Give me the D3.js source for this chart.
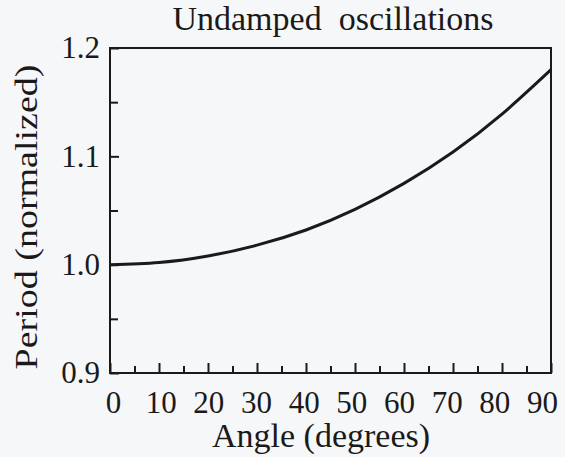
<!DOCTYPE html>
<html>
<head>
<meta charset="utf-8">
<script src="https://cdn.jsdelivr.net/npm/d3@7"></script>
<style>
  body { margin: 0; background: #f6f7f8; }
  text { font-family: "Liberation Serif", "Times New Roman", serif; fill: #1a1a1a; }
</style>
</head>
<body>
<div id="chart"></div>
<script>
// data
var angles = [0, 10, 20, 30, 40, 50, 60, 70, 80, 90];
var periods = [1.000, 1.002, 1.008, 1.018, 1.032, 1.051, 1.075, 1.104, 1.139, 1.180];
var xTicks = [0, 10, 20, 30, 40, 50, 60, 70, 80, 90];
var xMinorTicks = [5, 15, 25, 35, 45, 55, 65, 75, 85];
var yTicks = [0.9, 1.0, 1.1, 1.2];
var yMinorTicks = [0.95, 1.05, 1.15];

var margin = {top: 48, right: 14, bottom: 84, left: 110},
    width = 565 - margin.left - margin.right,
    height = 457 - margin.top - margin.bottom;

var svg = d3.select("#chart")
  .append("svg")
    .attr("width", 565)
    .attr("height", 457)
  .append("g")
    .attr("transform", "translate(" + margin.left + "," + margin.top + ")");

var x = d3.scaleLinear().domain([0, 90]).range([0, width]);
var y = d3.scaleLinear().domain([0.9, 1.2]).range([height, 0]);
// tick numbers in the picture sit a little tighter than the ticks
var xLabel = d3.scaleLinear().domain([0, 90]).range([3, width - 9]);

// frame
svg.append("rect")
  .attr("width", width)
  .attr("height", height)
  .attr("fill", "none")
  .attr("stroke", "#1a1a1a")
  .attr("stroke-width", 2);

// x axis, ticks pointing inward
svg.append("g")
  .attr("transform", "translate(0," + height + ")")
  .call(d3.axisBottom(x).tickValues(xTicks).tickSize(-10).tickFormat(""));
svg.append("g")
  .attr("transform", "translate(0," + height + ")")
  .call(d3.axisBottom(x).tickValues(xMinorTicks).tickSize(-7).tickFormat(""));
svg.append("g")
  .attr("class", "labels")
  .attr("transform", "translate(0," + height + ")")
  .call(d3.axisBottom(xLabel).tickValues(xTicks).tickSize(0).tickPadding(18).tickFormat(d3.format("d")));

// y axis
svg.append("g")
  .attr("class", "labels")
  .call(d3.axisLeft(y).tickValues(yTicks).tickSize(-9).tickPadding(10).tickFormat(d3.format(".1f")));
svg.append("g")
  .call(d3.axisLeft(y).tickValues(yMinorTicks).tickSize(-8).tickFormat(""));

svg.selectAll(".domain").remove();
svg.selectAll(".tick line").attr("stroke", "#1a1a1a").attr("stroke-width", 2);
svg.selectAll(".labels .tick text")
  .style("font-size", "31px")
  .style("font-family", "'Liberation Serif', serif")
  .attr("fill", "#1a1a1a");

// curve
var line = d3.line()
  .x(function(d, i) { return x(angles[i]); })
  .y(function(d) { return y(d); })
  .curve(d3.curveNatural);

svg.append("path")
  .datum(periods)
  .attr("fill", "none")
  .attr("stroke", "#1a1a1a")
  .attr("stroke-width", 3)
  .attr("d", line);

// title
svg.append("text")
  .attr("x", 223)
  .attr("y", -18)
  .style("text-anchor", "middle")
  .style("font-size", "34px")
  .attr("xml:space", "preserve")
  .text("Undamped  oscillations");

// x label
svg.append("text")
  .attr("x", 211)
  .attr("y", height + 74)
  .style("text-anchor", "middle")
  .style("font-size", "34px")
  .text("Angle (degrees)");

// y label
svg.append("text")
  .attr("transform", "rotate(-90)")
  .attr("x", 0 - 217 + margin.top)
  .attr("y", 37 - margin.left)
  .style("text-anchor", "middle")
  .style("font-size", "32px")
  .attr("textLength", 305)
  .attr("lengthAdjust", "spacingAndGlyphs")
  .text("Period (normalized)");
</script>
</body>
</html>
